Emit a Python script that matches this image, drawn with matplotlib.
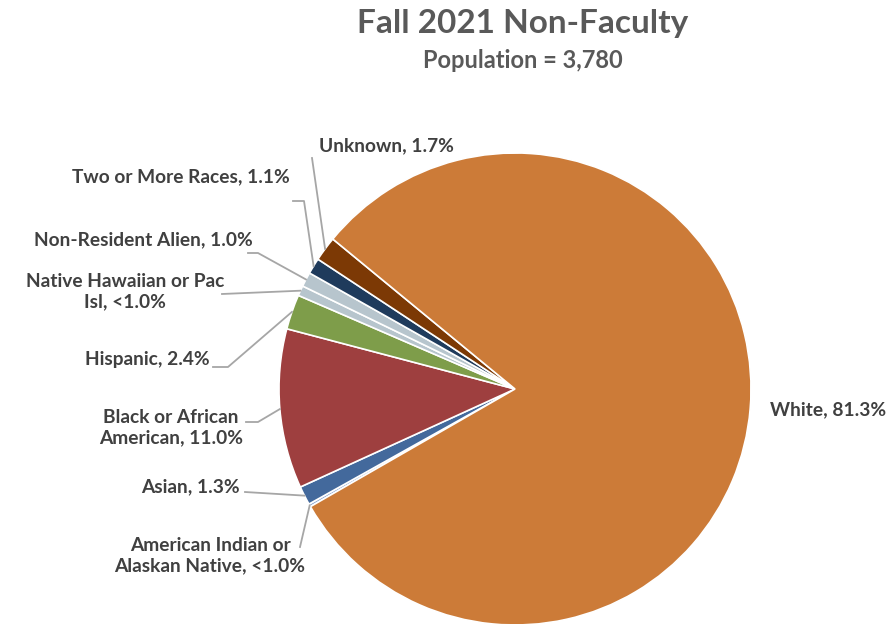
import numpy as np
import matplotlib
matplotlib.use("Agg")
import matplotlib.pyplot as plt
from matplotlib.lines import Line2D

categories = ["American Indian or\nAlaskan Native, <1.0%", "Asian, 1.3%",
              "Black or African\nAmerican, 11.0%", "Hispanic, 2.4%",
              "Native Hawaiian or Pac\nIsl, <1.0%", "Non-Resident Alien, 1.0%",
              "Two or More Races, 1.1%", "Unknown, 1.7%", "White, 81.3%"]
values = [0.2, 1.3, 11.0, 2.4, 0.7, 1.0, 1.1, 1.7, 81.3]
colors = ["#8FA9D3", "#43699C", "#9E3F3F", "#7E9D4A", "#B7C5CD",
          "#B7C5CD", "#1F3B5C", "#7C3905", "#CC7B38"]

W, H = 896, 624
plt.rcParams['font.family'] = ['Lato', 'DejaVu Sans']
fig = plt.figure(figsize=(W / 100, H / 100), dpi=100)
fig.patch.set_facecolor("white")

cx, cy, R = 515, 389, 236
ax = fig.add_axes([(cx - R) / W, (H - cy - R) / H, 2 * R / W, 2 * R / H])
wedges, _ = ax.pie(values, colors=colors, startangle=209.9, counterclock=False,
                   radius=1.0, wedgeprops=dict(edgecolor="white", linewidth=1.2))
ax.set_xlim(-1, 1)
ax.set_ylim(-1, 1)
ax.set_aspect("equal")
ax.axis("off")

def px(x, y):
    return x / W, 1 - y / H

def edge_pt(i, r=1.0):
    w = wedges[i]
    a = np.deg2rad((w.theta1 + w.theta2) / 2)
    p = ax.transData.transform((r * np.cos(a), r * np.sin(a)))
    return fig.transFigure.inverted().transform(p)

lc = "#A6A6A6"
tc = "#404040"
fs = 13.8

layout = {
    0: ((210, 556), "center", [(300, 547)]),
    1: ((240, 487), "right", [(245, 492)]),
    2: ((243, 428), "right", [(246, 422), (258, 422)]),
    3: ((210, 360), "right", [(213, 367), (228, 367)]),
    4: ((125, 292), "center", [(222, 294)]),
    5: ((253, 240), "right", [(248, 253), (258, 253)]),
    6: ((290, 177), "right", [(293, 201), (304, 201)]),
    7: ((386, 146), "center", [(312, 158)]),
    8: ((828, 410), "center", []),
}

for i, ((tx, ty), ha, pts) in layout.items():
    x, y = px(tx, ty)
    fig.text(x, y, categories[i], ha=ha, va="center", color=tc,
             fontsize=fs, fontweight="bold", multialignment="center",
             linespacing=1.25)
    if pts:
        xs = [px(*p)[0] for p in pts]
        ys = [px(*p)[1] for p in pts]
        e = edge_pt(i)
        xs.append(e[0]); ys.append(e[1])
        fig.add_artist(Line2D(xs, ys, color=lc, linewidth=1.3,
                              transform=fig.transFigure))

fig.text(*px(523, 24), "Fall 2021 Non-Faculty", ha="center", va="center",
         fontsize=24, fontweight="bold", color="#595959")
fig.text(*px(523, 61), "Population = 3,780", ha="center", va="center",
         fontsize=17, fontweight="bold", color="#595959")

fig.savefig("out.png", dpi=100, facecolor="white")
